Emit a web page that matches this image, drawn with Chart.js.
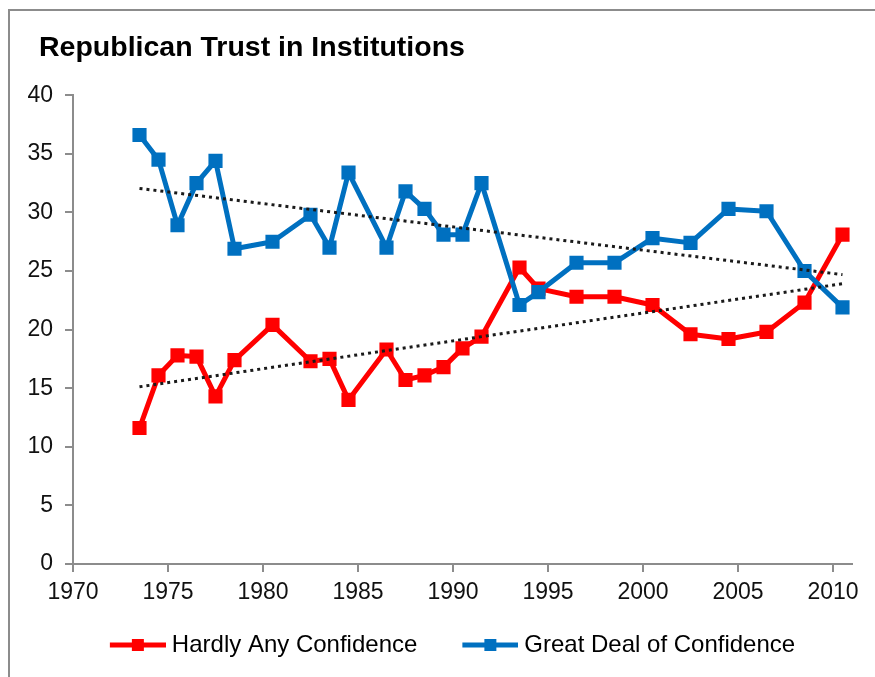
<!DOCTYPE html>
<html>
<head>
<meta charset="utf-8">
<script src="https://cdn.jsdelivr.net/npm/chart.js@4.4.1/dist/chart.umd.min.js"></script>
<style>
  html, body { margin: 0; padding: 0; background: #fff; }
  #wrap { position: relative; width: 875px; height: 677px; }
  #frame { position: absolute; left: 8px; top: 9px; right: -4px; bottom: -4px;
           border-left: 2px solid #8c8c8c; border-top: 2px solid #8c8c8c; }
  canvas { position: absolute; left: 0; top: 0; }
</style>
</head>
<body>
<div id="wrap">
  <div id="frame"></div>
  <canvas id="myChart"></canvas>
</div>
<script>
// survey years as plotted on the x axis
const years = [1973.5, 1974.5, 1975.5, 1976.5, 1977.5, 1978.5, 1980.5, 1982.5, 1983.5, 1984.5,
               1986.5, 1987.5, 1988.5, 1989.5, 1990.5, 1991.5, 1993.5, 1994.5, 1996.5, 1998.5,
               2000.5, 2002.5, 2004.5, 2006.5, 2008.5, 2010.5];
const hardlyAny = [11.6, 16.1, 17.8, 17.7, 14.3, 17.4, 20.4, 17.3, 17.5, 14.0,
                   18.3, 15.7, 16.1, 16.8, 18.4, 19.4, 25.3, 23.5, 22.8, 22.8,
                   22.1, 19.6, 19.2, 19.8, 22.3, 28.1];
const greatDeal = [36.6, 34.5, 28.9, 32.5, 34.4, 26.9, 27.5, 29.8, 27.0, 33.4,
                   27.0, 31.8, 30.3, 28.1, 28.1, 32.5, 22.1, 23.2, 25.7, 25.7,
                   27.8, 27.4, 30.3, 30.1, 25.0, 21.9];
const seriesNames = ['Hardly Any Confidence', 'Great Deal of Confidence'];
const xTicks = [1970, 1975, 1980, 1985, 1990, 1995, 2000, 2005, 2010];

const RED = '#ff0000';
const BLUE = '#0070c0';
const AXIS = '#8c8c8c';
const FONT = "'Liberation Sans', Arial, sans-serif";
const ICON_GAP = 25; // blank space before each legend line

function points(ys) {
    return years.map((x, i) => ({ x: x, y: ys[i] }));
}

// linear trendline (least squares), like Excel's
function trend(ys) {
    const n = years.length;
    let sx = 0, sy = 0, sxy = 0, sxx = 0;
    for (let i = 0; i < n; i++) {
        sx += years[i]; sy += ys[i];
        sxy += years[i] * ys[i]; sxx += years[i] * years[i];
    }
    const b = (n * sxy - sx * sy) / (n * sxx - sx * sx);
    const a = (sy - b * sx) / n;
    const x0 = years[0], x1 = years[n - 1];
    return [{ x: x0, y: a + b * x0 }, { x: x1, y: a + b * x1 }];
}

function legendIcon(color) {
    const c = document.createElement('canvas');
    c.width = 56 + ICON_GAP; c.height = 16;
    const g = c.getContext('2d');
    g.strokeStyle = color; g.lineWidth = 5;
    g.beginPath(); g.moveTo(ICON_GAP, 8); g.lineTo(ICON_GAP + 56, 8); g.stroke();
    g.fillStyle = color;
    g.fillRect(ICON_GAP + 22, 2, 12, 12);
    return c;
}

const series = (label, ys, color, order) => ({
    label: label,
    data: points(ys),
    borderColor: color,
    backgroundColor: color,
    borderWidth: 5,
    borderJoinStyle: 'round',
    pointStyle: 'rect',
    pointRadius: 10,
    pointHoverRadius: 10,
    pointBorderWidth: 0,
    tension: 0,
    order: order
});

const trendLine = (ys, order) => ({
    label: 'trend',
    data: trend(ys),
    borderColor: '#1a1a1a',
    borderWidth: 3,
    borderDash: [3, 4],
    pointRadius: 0,
    order: order
});

// move title and legend a little after layout
const nudge = {
    id: 'nudge',
    afterLayout(chart) {
        if (chart.titleBlock) chart.titleBlock.left = 39;
        if (chart.legend) {
            chart.legend.left += 12;
            chart.legend.right += 12;
        }
    }
};

document.addEventListener('DOMContentLoaded', () => {
    const ctx = document.getElementById('myChart').getContext('2d');
    const icons = [legendIcon(RED), legendIcon(BLUE)];

    new Chart(ctx, {
        type: 'line',
        data: {
            datasets: [
                series(seriesNames[0], hardlyAny, RED, 4),
                series(seriesNames[1], greatDeal, BLUE, 3),
                trendLine(hardlyAny, 1),
                trendLine(greatDeal, 2)
            ]
        },
        plugins: [nudge],
        options: {
            responsive: true,
            maintainAspectRatio: false,
            animation: false,
            layout: { padding: { left: 10, right: 23, top: 0, bottom: 10 } },
            plugins: {
                tooltip: { enabled: false },
                title: {
                    display: true,
                    text: 'Republican Trust in Institutions',
                    align: 'start',
                    color: '#000',
                    font: { family: FONT, size: 28.5, weight: 'bold' },
                    padding: { top: 31, bottom: 30 }
                },
                legend: {
                    position: 'bottom',
                    labels: {
                        usePointStyle: true,
                        pointStyleWidth: 44 + ICON_GAP,
                        padding: 26,
                        color: '#000',
                        font: { family: FONT, size: 24 },
                        generateLabels: () => seriesNames.map((name, i) => ({
                            text: name,
                            pointStyle: icons[i],
                            fillStyle: i ? BLUE : RED,
                            strokeStyle: i ? BLUE : RED,
                            lineWidth: 0,
                            hidden: false,
                            datasetIndex: i
                        }))
                    }
                }
            },
            scales: {
                x: {
                    type: 'linear',
                    min: 1970,
                    max: 2011,
                    afterFit: (s) => { s.height = 43; },
                    afterBuildTicks: (s) => { s.ticks = xTicks.map(v => ({ value: v })); },
                    border: { color: AXIS, width: 2 },
                    grid: { drawOnChartArea: false, drawTicks: true, tickLength: 8, color: AXIS, lineWidth: 2 },
                    ticks: {
                        color: '#111',
                        padding: 7,
                        maxRotation: 0,
                        font: { family: FONT, size: 23 },
                        callback: (v) => String(v)
                    }
                },
                y: {
                    min: 0,
                    max: 40,
                    afterFit: (s) => { s.width = 63; },
                    border: { color: AXIS, width: 2 },
                    grid: { drawOnChartArea: false, drawTicks: true, tickLength: 8, color: AXIS, lineWidth: 2 },
                    ticks: {
                        stepSize: 5,
                        color: '#111',
                        padding: 12,
                        font: { family: FONT, size: 23 }
                    }
                }
            }
        }
    });
});
</script>
</body>
</html>
